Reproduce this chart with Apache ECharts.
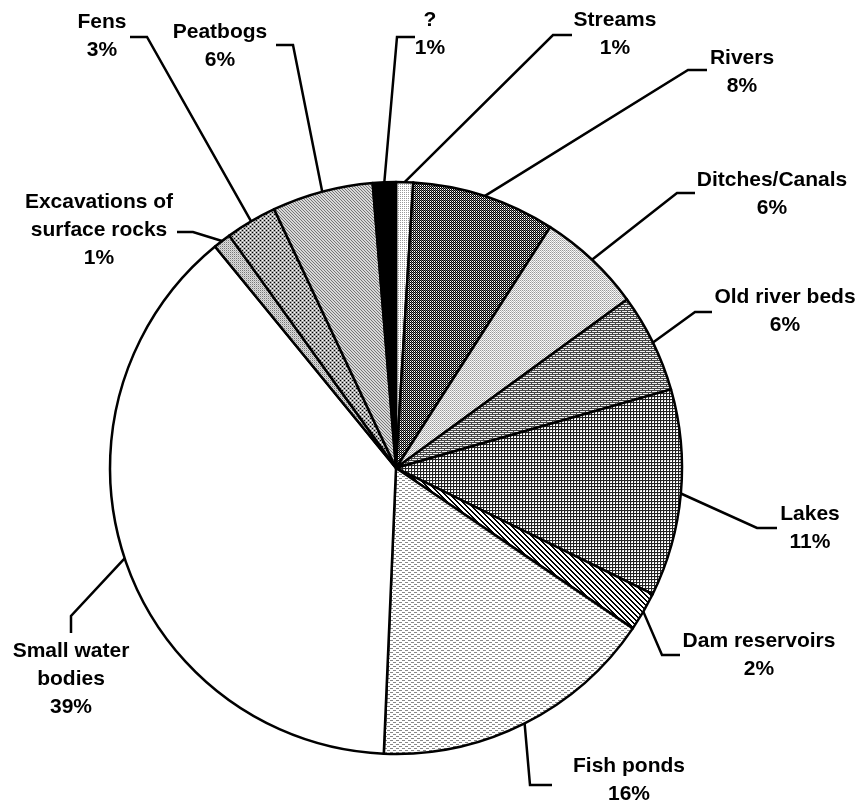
<!DOCTYPE html>
<html>
<head>
<meta charset="utf-8">
<script src="https://cdn.jsdelivr.net/npm/echarts@6/dist/echarts.min.js"></script>
<style>
    html, body { margin: 0; padding: 0; background: #fff; }
    #chartPie { width: 859px; height: 801px; }
</style>
</head>
<body>
<div id="chartPie"></div>
<script>
// slices, clockwise from 12 o'clock
const categories = [
    'Streams', 'Rivers', 'Ditches/Canals', 'Old river beds', 'Lakes',
    'Dam reservoirs', 'Fish ponds', 'Small water\nbodies',
    'Excavations of\nsurface rocks', 'Fens', 'Peatbogs', '?',
];
// slice sizes as drawn (percent)
const shares = [0.96, 8.1, 5.9, 5.6, 11.7, 2.2, 16.2, 38.4, 1.0, 2.9, 5.7, 1.3];
// percentages printed in the labels
const pctLabels = ['1%', '8%', '6%', '6%', '11%', '2%', '16%', '39%', '1%', '3%', '6%', '1%'];

// label placement: text centre, elbow of the leader, end of the short stub
const labelSpots = [
    { at: [615, 34], elbow: [553, 35], end: [572, 35] },
    { at: [742, 72], elbow: [688, 70], end: [707, 70] },
    { at: [772, 194], elbow: [677, 193], end: [695, 193] },
    { at: [785, 311], elbow: [695, 312], end: [712, 312] },
    { at: [810, 528], elbow: [757, 528], end: [777, 528] },
    { at: [759, 655], elbow: [662, 655], end: [680, 655] },
    { at: [629, 780], elbow: [530, 785], end: [552, 785] },
    { at: [71, 679], elbow: [71, 616], end: [71, 633] },
    { at: [99, 230], elbow: [193, 232], end: [177, 232] },
    { at: [102, 36], elbow: [147, 37], end: [130, 37] },
    { at: [220, 46], elbow: [293, 45], end: [276, 45] },
    { at: [430, 34], elbow: [397, 37], end: [415, 37] },
];

// small canvas tiles for the grey-scale hatch fills
function tile(w, h, draw) {
    const c = document.createElement('canvas');
    c.width = w;
    c.height = h;
    const ctx = c.getContext('2d');
    ctx.fillStyle = '#fff';
    ctx.fillRect(0, 0, w, h);
    draw(ctx);
    return { image: c, repeat: 'repeat' };
}
function px(ctx, color, pts) {
    ctx.fillStyle = color;
    pts.forEach((p) => ctx.fillRect(p[0], p[1], 1, 1));
}

const fills = [
    // Streams - sparse dots
    tile(2, 2, (ctx) => px(ctx, '#999', [[0, 0]])),
    // Rivers - dark checker
    tile(2, 2, (ctx) => {
        px(ctx, '#000', [[0, 0], [1, 1]]);
        px(ctx, '#777', [[1, 0]]);
    }),
    // Ditches - light fine
    tile(2, 2, (ctx) => {
        px(ctx, '#999', [[0, 0]]);
        px(ctx, '#bbb', [[1, 1]]);
        px(ctx, '#eee', [[1, 0]]);
    }),
    // Old river beds - brick
    tile(6, 4, (ctx) => {
        ctx.fillStyle = '#eee';
        ctx.fillRect(0, 0, 6, 4);
        ctx.fillStyle = '#444';
        ctx.fillRect(0, 0, 6, 1);
        ctx.fillRect(0, 2, 6, 1);
        ctx.fillRect(0, 1, 1, 1);
        ctx.fillRect(3, 3, 1, 1);
    }),
    // Lakes - grid
    tile(3, 3, (ctx) => {
        ctx.fillStyle = '#222';
        ctx.fillRect(0, 0, 3, 1);
        ctx.fillRect(0, 0, 1, 3);
        px(ctx, '#ccc', [[1, 1]]);
    }),
    // Dam reservoirs - diagonal stripes
    tile(5, 5, (ctx) => {
        ctx.fillStyle = '#000';
        for (let i = 0; i < 5; i++) {
            ctx.fillRect(i, i, 1, 1);
            ctx.fillRect((i + 1) % 5, i, 1, 1);
        }
    }),
    // Fish ponds - light dashes
    tile(6, 4, (ctx) => {
        ctx.fillStyle = '#888';
        ctx.fillRect(0, 0, 3, 1);
        ctx.fillRect(3, 2, 3, 1);
    }),
    // Small water bodies - plain
    '#ffffff',
    // Excavations - fine grey
    tile(2, 2, (ctx) => {
        ctx.fillStyle = '#ddd';
        ctx.fillRect(0, 0, 2, 2);
        px(ctx, '#777', [[0, 0]]);
        px(ctx, '#bbb', [[1, 1]]);
    }),
    // Fens - dots on grey
    tile(4, 4, (ctx) => {
        ctx.fillStyle = '#aaa';
        ctx.fillRect(0, 0, 4, 4);
        px(ctx, '#000', [[0, 0], [2, 2]]);
        px(ctx, '#fff', [[2, 0], [0, 2]]);
    }),
    // Peatbogs - fine diagonal
    tile(3, 3, (ctx) => {
        ctx.fillStyle = '#d8d8d8';
        ctx.fillRect(0, 0, 3, 3);
        px(ctx, '#777', [[0, 0], [1, 1], [2, 2]]);
    }),
    // ?
    '#000000',
];

const pieChart = echarts.init(document.getElementById('chartPie'), null, { renderer: 'canvas' });

const option = {
    animation: false,
    backgroundColor: '#fff',
    textStyle: {
        fontFamily: '"Liberation Sans", Arial, sans-serif',
    },
    series: [
        {
            type: 'pie',
            center: [396, 468],
            radius: 286,
            startAngle: 90,
            clockwise: true,
            avoidLabelOverlap: false,
            silent: true,
            itemStyle: {
                borderColor: '#000',
                borderWidth: 2.5,
            },
            label: {
                show: true,
                position: 'outside',
                color: '#000',
                fontSize: 21,
                fontWeight: 'bold',
                lineHeight: 28,
                fontFamily: '"Liberation Sans", Arial, sans-serif',
                formatter: (p) => `${categories[p.dataIndex]}\n${pctLabels[p.dataIndex]}`,
            },
            labelLine: {
                show: true,
                length: 20,
                length2: 20,
                lineStyle: { color: '#000', width: 2.5 },
            },
            labelLayout: function (params) {
                const spot = labelSpots[params.dataIndex];
                const start = params.labelLinePoints[0];
                return {
                    x: spot.at[0],
                    y: spot.at[1],
                    align: 'center',
                    verticalAlign: 'middle',
                    labelLinePoints: [start, spot.elbow, spot.end],
                };
            },
            data: categories.map((name, i) => ({
                name: name,
                value: shares[i],
                itemStyle: { color: fills[i] },
            })),
        },
    ],
};

option && pieChart.setOption(option);
</script>
</body>
</html>
